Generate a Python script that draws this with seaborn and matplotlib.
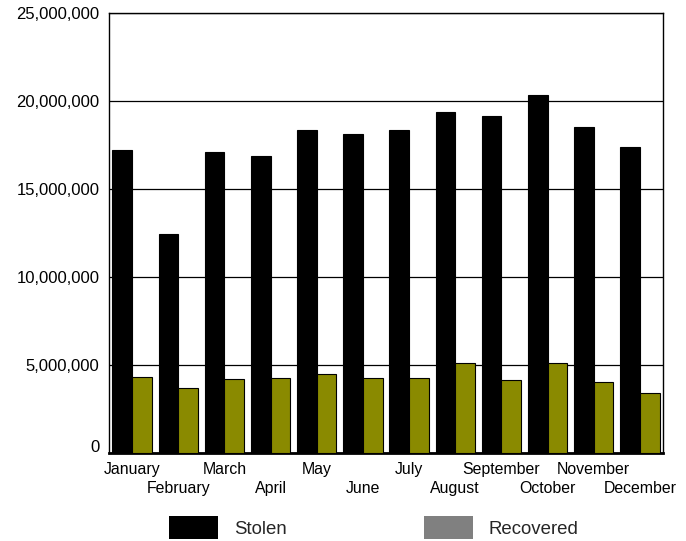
import matplotlib
matplotlib.use("Agg")
import matplotlib.pyplot as plt
import matplotlib.transforms as mtransforms
from matplotlib.patches import Patch
from matplotlib.ticker import FuncFormatter, MultipleLocator
import seaborn as sns
import pandas as pd

months = ["January", "February", "March", "April", "May", "June", "July",
          "August", "September", "October", "November", "December"]
stolen = [17.24e6, 12.45e6, 17.10e6, 16.85e6, 18.38e6, 18.15e6, 18.34e6,
          19.40e6, 19.12e6, 20.33e6, 18.51e6, 17.36e6]
recovered = [4.33e6, 3.72e6, 4.22e6, 4.27e6, 4.50e6, 4.27e6, 4.25e6,
             5.12e6, 4.16e6, 5.10e6, 4.02e6, 3.42e6]
series_names = ["Stolen", "Recovered"]
bar_colors = ["#000000", "#8a8a00"]
legend_colors = ["#000000", "#808080"]

df = pd.DataFrame({
    "month": months * 2,
    "value": stolen + recovered,
    "series": [series_names[0]] * len(months) + [series_names[1]] * len(months),
})

sns.set_theme(style="white")
plt.rcParams["font.family"] = ["Liberation Sans", "DejaVu Sans"]

fig = plt.figure(figsize=(6.86, 5.41), dpi=100)
ax = fig.add_axes([109 / 686, 1 - 453 / 541, (663 - 109) / 686, (453 - 13) / 541])

sns.barplot(data=df, x="month", y="value", hue="series", order=months,
            hue_order=series_names, palette=dict(zip(series_names, bar_colors)),
            width=0.85, edgecolor="black", linewidth=0.8, saturation=1,
            legend=False, ax=ax, zorder=3)

ax.set_ylim(0, 25e6)
ax.set_xlim(-0.5, len(months) - 0.5)
ax.yaxis.set_major_locator(MultipleLocator(5e6))
ax.yaxis.set_major_formatter(FuncFormatter(lambda v, p: f"{int(v):,}"))
ax.grid(axis="y", color="black", linewidth=0.9, zorder=0)
ax.set_axisbelow(True)
ax.set_xlabel("")
ax.set_ylabel("")

for side in ["top", "right", "left"]:
    ax.spines[side].set_color("black")
    ax.spines[side].set_linewidth(1.0)
ax.spines["bottom"].set_color("black")
ax.spines["bottom"].set_linewidth(2.0)

ax.tick_params(axis="y", length=0, pad=7, labelsize=12, labelcolor="black")
ax.tick_params(axis="x", length=0, labelsize=11.4, labelcolor="black")
for i, tick in enumerate(ax.xaxis.get_major_ticks()):
    tick.set_pad(6.5 if i % 2 == 0 else 20.5)

# nudge "0" label slightly upward like the reference
for lbl in ax.get_yticklabels():
    if lbl.get_text() == "0":
        lbl.set_transform(lbl.get_transform() +
                          mtransforms.ScaledTranslation(0, 5 / 72, fig.dpi_scale_trans))

handles = [Patch(facecolor=c, edgecolor="none", label=n)
           for n, c in zip(series_names, legend_colors)]
fig.legend(handles=handles, loc="lower center", bbox_to_anchor=(0.545, -0.010),
           ncol=2, frameon=False, fontsize=13.4, handlelength=2.6,
           handleheight=1.5, handletextpad=0.85, columnspacing=7.4,
           borderaxespad=0)

fig.savefig("out.png", dpi=100)
